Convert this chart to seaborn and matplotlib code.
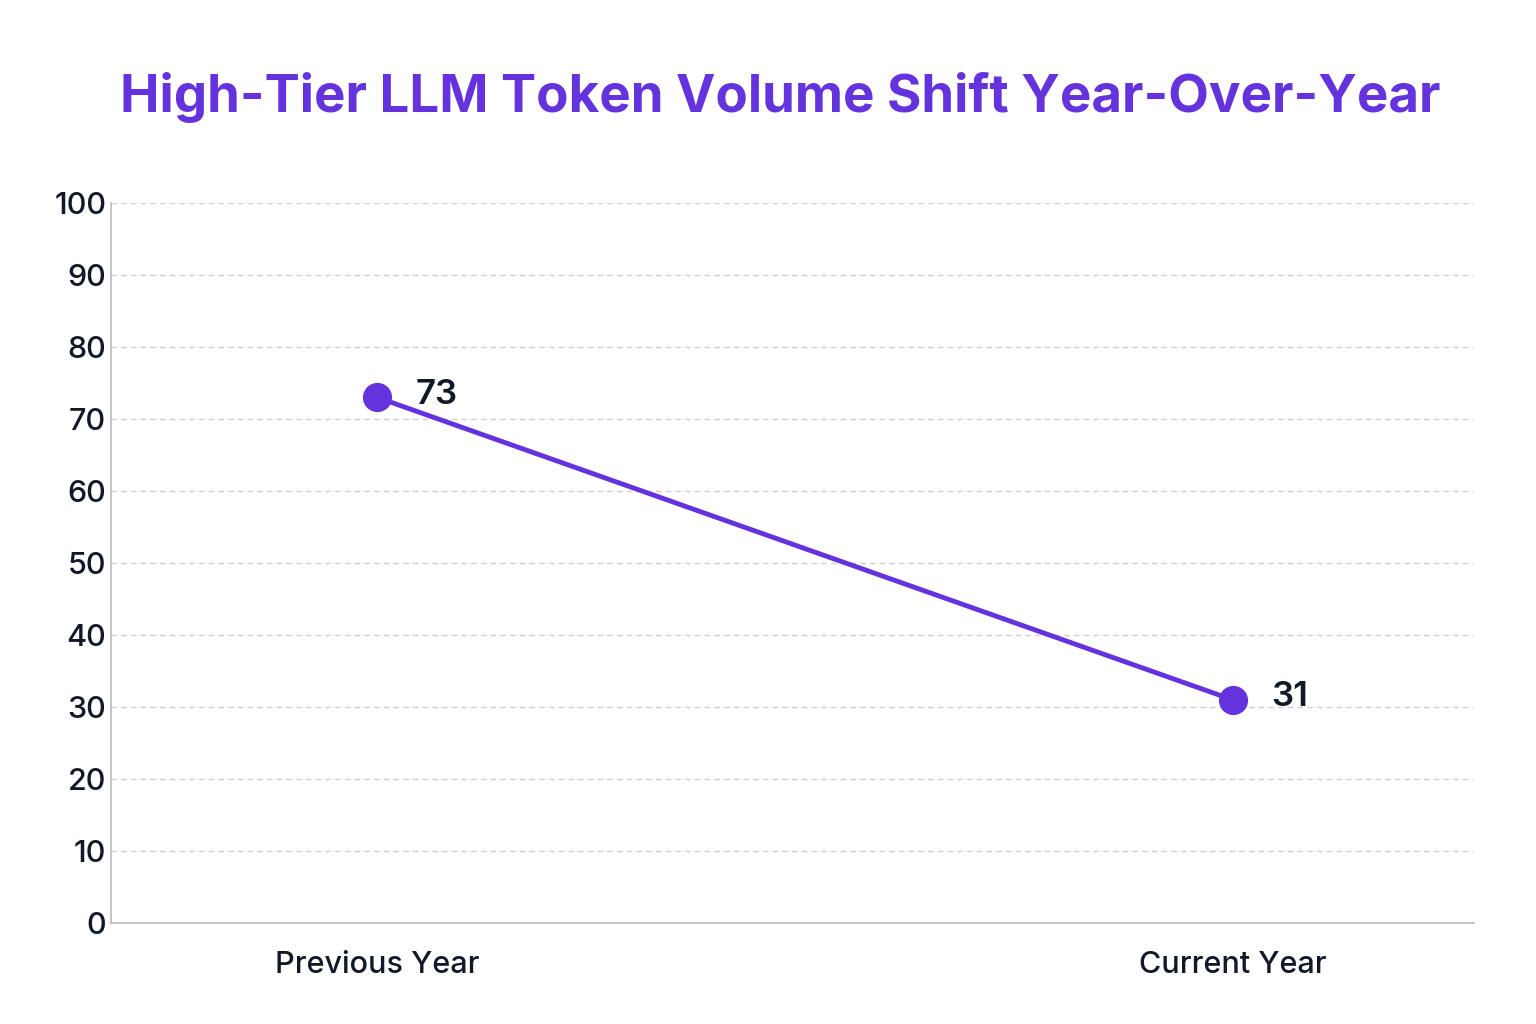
import matplotlib
matplotlib.use("Agg")
import matplotlib.pyplot as plt
import seaborn as sns
import pandas as pd

periods = ["Previous Year", "Current Year"]
values = [73, 31]
ticks = list(range(0, 101, 10))

sns.set_theme(style="white")
plt.rcParams['font.family'] = ['Inter', 'DejaVu Sans']

color = "#6433DD"
fig = plt.figure(figsize=(15.36, 10.24), dpi=100)
ax = fig.add_axes([0.0723, 0.0986, 0.8873, 0.7032])
df = pd.DataFrame({"period": periods, "x": [0, 1], "value": values})
sns.lineplot(data=df, x="x", y="value", ax=ax, color=color, linewidth=3.5,
             marker="o", markersize=21, markeredgewidth=0, zorder=3)
for xi, v in zip(df["x"], df["value"]):
    ax.annotate(f"{v}", (xi, v), xytext=(28, 2), textcoords="offset points",
                fontsize=25, fontweight="semibold", color="#111827", va="center", ha="left")
ax.set_xlim(-0.311, 1.282)
ax.set_ylim(0, 100)
ax.set_yticks(ticks)
ax.set_xticks([0, 1])
ax.set_xticklabels(periods)
ax.tick_params(axis="both", labelsize=22, colors="#111827", length=0)
for lab in ax.get_xticklabels() + ax.get_yticklabels():
    lab.set_fontweight("medium")
ax.tick_params(axis="x", pad=20)
ax.set_xlabel("")
ax.set_ylabel("")
ax.yaxis.grid(True, linestyle=(0, (4, 3)), color="#d0d0d0", linewidth=1)
for s in ["top", "right"]:
    ax.spines[s].set_visible(False)
for s in ["left", "bottom"]:
    ax.spines[s].set_color("#bbbbbb")
    ax.spines[s].set_linewidth(1.2)
fig.suptitle("High-Tier LLM Token Volume Shift Year-Over-Year", x=0.508, y=0.93,
             fontsize=38, fontweight="bold", color="#6433DD")
fig.savefig("out.png", dpi=100, facecolor="white")
